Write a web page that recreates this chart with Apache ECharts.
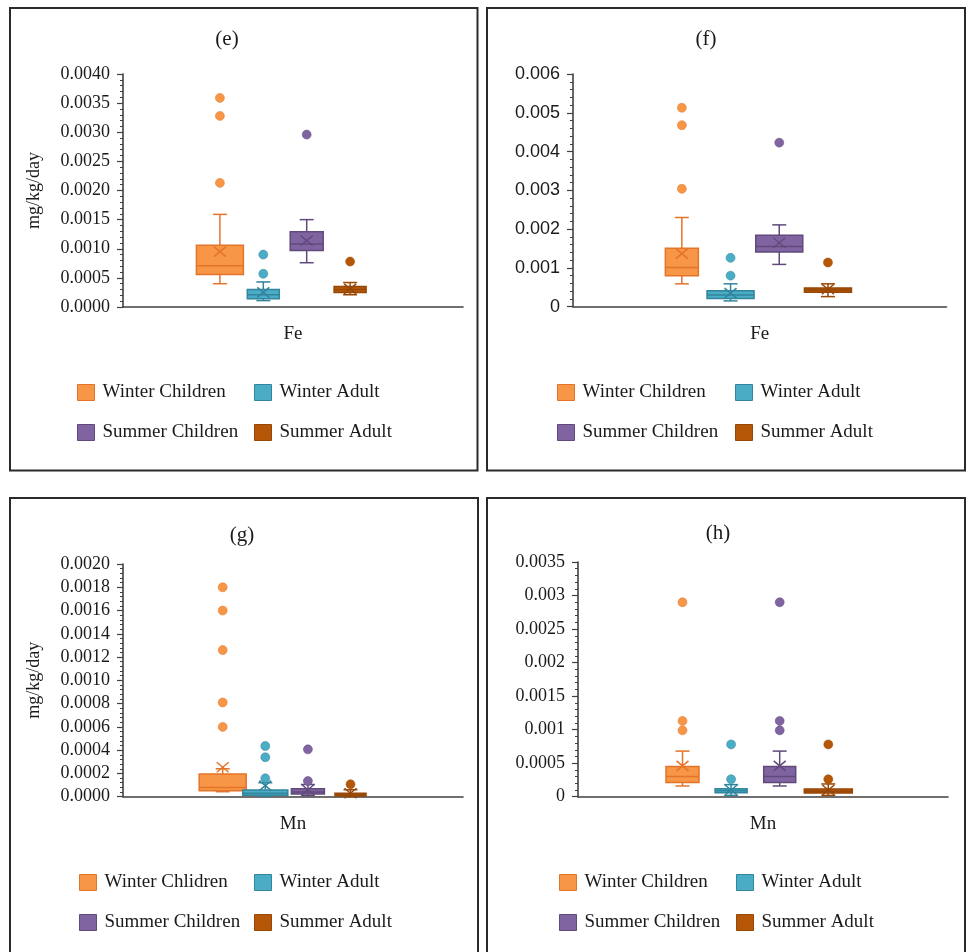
<!DOCTYPE html>
<html><head><meta charset="utf-8">
<script src="https://cdn.jsdelivr.net/npm/echarts@6/dist/echarts.min.js"></script>
<style>html,body{margin:0;padding:0;background:#fff}#c{width:966px;height:952px}</style>
</head><body><div id="c"></div>
<script>
// ---------------- DATA ----------------
const groupsFe = ['Winter Children', 'Winter Adult', 'Summer Children', 'Summer Adult'];
const groupsMnG = ['Winter Chlidren', 'Winter Adult', 'Summer Children', 'Summer Adult'];
const groupsMnH = ['Winter Children', 'Winter Adult', 'Summer Children', 'Summer Adult'];
const catFe = ['Fe'];
const catMn = ['Mn'];

// each box: [min, Q1, median, Q3, max, mean]
const boxE = [
  [0.00040, 0.00056, 0.00071, 0.00106, 0.00159, 0.00095],
  [0.00011, 0.00014, 0.00021, 0.00030, 0.00043, 0.00025],
  [0.00076, 0.00097, 0.00108, 0.00129, 0.00150, 0.00114],
  [0.00021, 0.00025, 0.00030, 0.00035, 0.00042, 0.00031]
];
const outE = [[0.00213, 0.00328, 0.00359], [0.00057, 0.00090], [0.00296], [0.00078]];

const boxF = [
  [0.00059, 0.00080, 0.00101, 0.00151, 0.00230, 0.00137],
  [0.00015, 0.00021, 0.00030, 0.00041, 0.00059, 0.00035],
  [0.00109, 0.00141, 0.00155, 0.00184, 0.00211, 0.00165],
  [0.00026, 0.00037, 0.00043, 0.00048, 0.00059, 0.00045]
];
const outF = [[0.00304, 0.00468, 0.00513], [0.00080, 0.00126], [0.00423], [0.00114]];

const boxG = [
  [0.000043, 0.000052, 0.000080, 0.000195, 0.000240, 0.000253],
  [0.000005, 0.000012, 0.000030, 0.000058, 0.000120, 0.000095],
  [0.000010, 0.000023, 0.000040, 0.000069, 0.000105, 0.000060],
  [0.000002, 0.000005, 0.000015, 0.000029, 0.000060, 0.000030]
];
const outG = [[0.00060, 0.00081, 0.00126, 0.00160, 0.00180], [0.000158, 0.000339, 0.000436], [0.000135, 0.000407], [0.000107]];

const boxH = [
  [0.00016, 0.00021, 0.00030, 0.00045, 0.00068, 0.00046],
  [0.00002, 0.00006, 0.00009, 0.00012, 0.00018, 0.00010],
  [0.00016, 0.00021, 0.00030, 0.00045, 0.00068, 0.00046],
  [0.00002, 0.000055, 0.00008, 0.000115, 0.00019, 0.00010]
];
const outH = [[0.00099, 0.00113, 0.00290], [0.00026, 0.00078], [0.00099, 0.00113, 0.00290], [0.00026, 0.00078]];

const ticksE = ['0.0000', '0.0005', '0.0010', '0.0015', '0.0020', '0.0025', '0.0030', '0.0035', '0.0040'];
const ticksF = ['0', '0.001', '0.002', '0.003', '0.004', '0.005', '0.006'];
const ticksG = ['0.0000', '0.0002', '0.0004', '0.0006', '0.0008', '0.0010', '0.0012', '0.0014', '0.0016', '0.0018', '0.0020'];
const ticksH = ['0', '0.0005', '0.001', '0.0015', '0.002', '0.0025', '0.003', '0.0035'];

// ---------------- STYLE ----------------
const fills = ['#F79646', '#4BACC6', '#8064A2', '#B65708'];
const strokes = ['#E3742A', '#31859C', '#604A7B', '#974706'];
const SERIF = 'Liberation Serif';
const SANS = 'Liberation Sans';
const TXT = '#1a1a1a';
const AX = '#404040';

const panels = [
  { title: '(e)', tx: 227, ty: 39, groups: groupsFe, cat: catFe, box: boxE, out: outE, ticks: ticksE, yName: 'mg/kg/day', tickFont: SERIF,
    grid: { left: 123, top: 74, width: 340, height: 233 }, boxGrid: { left: 198.2, width: 173.6 }, widths: [47, 32, 33, 32],
    frame: [10, 8, 467.5, 462.5], lx: [77, 254], ly: 383 },
  { title: '(f)', tx: 706, ty: 39, groups: groupsFe, cat: catFe, box: boxF, out: outF, ticks: ticksF, yName: '', tickFont: SANS,
    grid: { left: 573, top: 74, width: 373.5, height: 232.7 }, boxGrid: { left: 657.5, width: 194.8 }, widths: [33, 47, 47, 47],
    frame: [487, 8, 478, 462.5], lx: [557, 735], ly: 383 },
  { title: '(g)', tx: 242, ty: 535, groups: groupsMnG, cat: catMn, box: boxG, out: outG, ticks: ticksG, yName: 'mg/kg/day', tickFont: SERIF,
    grid: { left: 123, top: 564, width: 340, height: 232.7 }, boxGrid: { left: 201.4, width: 170.4 }, widths: [47, 45, 33, 31],
    frame: [10, 498, 468, 470], lx: [79, 254], ly: 873 },
  { title: '(h)', tx: 718, ty: 533, groups: groupsMnH, cat: catMn, box: boxH, out: outH, ticks: ticksH, yName: '', tickFont: SERIF,
    grid: { left: 578, top: 562, width: 370, height: 234.7 }, boxGrid: { left: 658.2, width: 194.4 }, widths: [33, 32, 32, 48],
    frame: [487, 498, 478, 470], lx: [559, 736], ly: 873 }
];

const option = { animation: false, backgroundColor: '#fff', grid: [], xAxis: [], yAxis: [], series: [], legend: [], graphic: [] };

panels.forEach((p, i) => {
  const interval = parseFloat(p.ticks[1]);
  const ymax = parseFloat(p.ticks[p.ticks.length - 1]);
  const gVis = 2 * i, gBox = 2 * i + 1;
  option.grid.push({ left: p.grid.left, top: p.grid.top, width: p.grid.width, height: p.grid.height });
  option.grid.push({ left: p.boxGrid.left, top: p.grid.top, width: p.boxGrid.width, height: p.grid.height });

  option.xAxis.push({
    type: 'category', gridIndex: gVis, data: p.cat,
    axisLine: { lineStyle: { color: AX, width: 1.6 } }, axisTick: { show: false },
    axisLabel: { fontFamily: SERIF, fontSize: 19, color: TXT, margin: 18 }
  });
  option.xAxis.push({ type: 'category', gridIndex: gBox, data: p.groups, show: false });

  option.yAxis.push({
    type: 'value', gridIndex: gVis, min: 0, max: ymax, interval: interval,
    name: p.yName, nameLocation: 'middle', nameGap: 80, nameRotate: 90,
    nameTextStyle: { fontFamily: SERIF, fontSize: 18, color: TXT },
    axisLine: { show: true, lineStyle: { color: AX, width: 1.6 } },
    axisTick: { show: true, length: 6, lineStyle: { color: AX, width: 1.2 } },
    minorTick: { show: true, splitNumber: 5, length: 3, lineStyle: { color: AX, width: 1 } },
    splitLine: { show: false },
    axisLabel: { fontFamily: p.tickFont, fontSize: 18, color: TXT, margin: 13,
      formatter: v => p.ticks[Math.round(v / interval)] }
  });
  option.yAxis.push({ type: 'value', gridIndex: gBox, min: 0, max: ymax, show: false });

  p.groups.forEach((name, j) => {
    const bw = p.widths[j];
    option.series.push({
      type: 'custom', name: name, xAxisIndex: gBox, yAxisIndex: gBox,
      encode: { x: 0, y: [1, 2, 3, 4, 5, 6] },
      data: [[j].concat(p.box[j])],
      renderItem: function (params, api) {
        const x = api.value(0);
        const vals = [1, 2, 3, 4, 5, 6].map(k => api.value(k));
        const py = v => api.coord([x, v])[1];
        const cx = api.coord([x, vals[2]])[0];
        const yMin = py(vals[0]), yQ1 = py(vals[1]), yMed = py(vals[2]), yQ3 = py(vals[3]), yMax = py(vals[4]), yMean = py(vals[5]);
        const hw = bw / 2, cw = 7, lw = 1.5;
        const st = { stroke: strokes[j], lineWidth: lw, fill: null };
        const line = (x1, y1, x2, y2) => ({ type: 'line', shape: { x1, y1, x2, y2 }, style: st });
        return {
          type: 'group',
          children: [
            line(cx, yMax, cx, yQ3),
            line(cx, yQ1, cx, yMin),
            line(cx - cw, yMax, cx + cw, yMax),
            line(cx - cw, yMin, cx + cw, yMin),
            { type: 'rect', shape: { x: cx - hw, y: yQ3, width: bw, height: Math.max(yQ1 - yQ3, 1) },
              style: { fill: fills[j], stroke: strokes[j], lineWidth: lw } },
            line(cx - hw, yMed, cx + hw, yMed),
            line(cx - 6, yMean - 5, cx + 6, yMean + 5),
            line(cx - 6, yMean + 5, cx + 6, yMean - 5)
          ]
        };
      }
    });
    option.series.push({
      type: 'scatter', name: name, xAxisIndex: gBox, yAxisIndex: gBox,
      symbol: 'circle', symbolSize: 9,
      itemStyle: { color: fills[j], borderColor: strokes[j], borderWidth: 0.5, opacity: 1 },
      data: p.out[j].map(v => [j, v])
    });
  });

  const legItem = j => ({ name: p.groups[j], icon: 'rect', itemStyle: { color: fills[j], borderColor: strokes[j], borderWidth: 1 } });
  const legBase = { orient: 'vertical', top: p.ly, padding: 0, itemWidth: 17, itemHeight: 16, itemGap: 21, selectedMode: false,
    textStyle: { fontFamily: SERIF, fontSize: 19, color: TXT, padding: [0, 0, 0, 3] } };
  option.legend.push(Object.assign({}, legBase, { left: p.lx[0], data: [legItem(0), legItem(2)] }));
  option.legend.push(Object.assign({}, legBase, { left: p.lx[1], data: [legItem(1), legItem(3)] }));

  option.graphic.push({ type: 'rect', shape: { x: p.frame[0], y: p.frame[1], width: p.frame[2], height: p.frame[3] },
    style: { fill: null, stroke: '#2a2a2a', lineWidth: 2 }, z: 100 });
  option.graphic.push({ type: 'text', x: p.tx, y: p.ty,
    style: { text: p.title, font: '21px "Liberation Serif"', fill: TXT, textAlign: 'center', textVerticalAlign: 'middle' } });
});

const chart = echarts.init(document.getElementById('c'), null, { renderer: 'canvas' });
chart.setOption(option);
</script>
</body></html>
